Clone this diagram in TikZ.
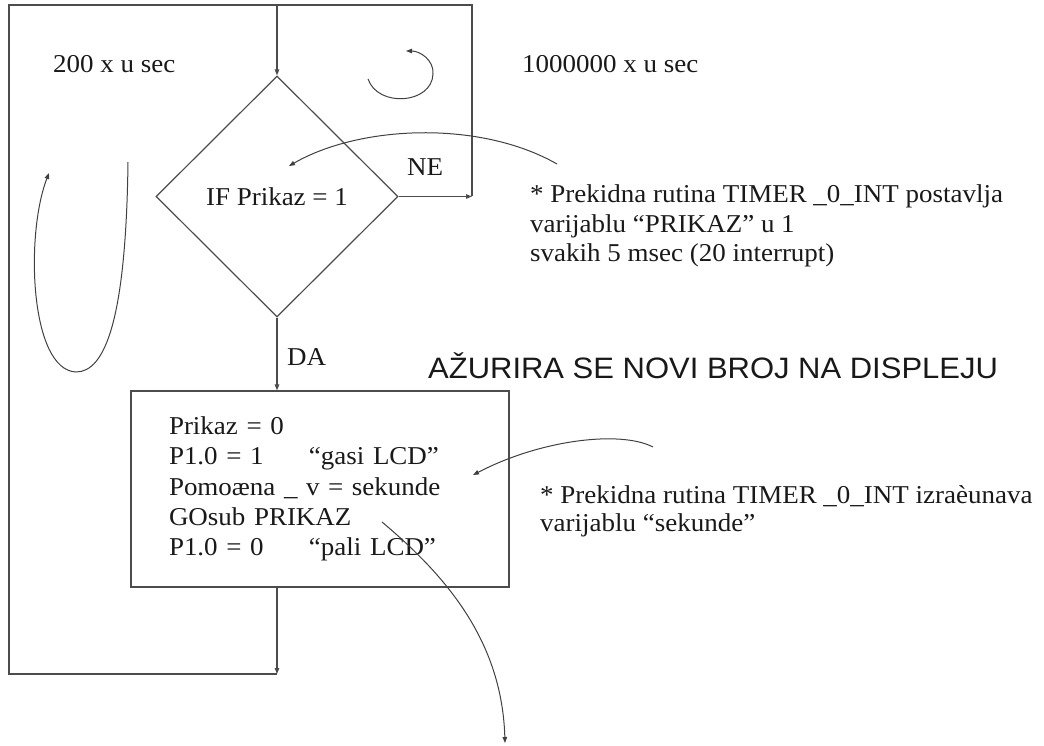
\documentclass[tikz,border=0pt]{standalone}
\usepackage{fontspec}
\setmainfont{Liberation Serif}[FakeStretch=1.05]
\newfontfamily\titlefont{Liberation Sans}[FakeStretch=1.05]
\usetikzlibrary{arrows.meta, shapes.geometric}
\tikzset{
  flow/.style={draw=black!70, line width=1.2pt},
  hint/.style={draw=black!75, line width=1pt},
  notetext/.style={anchor=north west, align=left, font=\fontsize{25.7}{29.5}\selectfont},
}
\begin{document}
\begin{tikzpicture}[x=1pt, y=-1pt, >={Triangle[length=6pt,width=4.5pt]},
  every node/.style={text=black!90, inner sep=0pt, font=\fontsize{25.7}{30}\selectfont}]
  \useasboundingbox (0,0) rectangle (1044,746);

  \node[diamond, flow, minimum width=242pt, minimum height=241pt] (cond) at (277,196.5) {IF Prikaz = 1};
  \node[flow, minimum width=378pt, minimum height=196pt, text width=302pt, align=left,
    font=\fontsize{25.7}{30.3}\selectfont] (upd) at (320,489)
    {Prikaz = 0\\
     \makebox[140pt][l]{P1.0 = 1}“gasi LCD”\\
     Pomoæna \_ v = sekunde\\
     GOsub PRIKAZ\\
     \makebox[140pt][l]{P1.0 = 0}“pali LCD”};

  \node[anchor=base west] (fast) at (53,73) {200 x u sec};
  \node[anchor=base west] (slow) at (522,73) {1000000 x u sec};
  \node[anchor=base west] (ne) at (407,176) {NE};
  \node[anchor=base west] (da) at (287,365) {DA};
  \node[anchor=base west, font=\titlefont\fontsize{29.5}{32}\selectfont] (title) at (428,378)
    {AŽURIRA SE NOVI BROJ NA DISPLEJU};
  \node[notetext] (note1) at (530,184.5)
    {* Prekidna rutina TIMER \_0\_INT postavlja\\
     varijablu “PRIKAZ” u 1\\
     svakih 5 msec (20 interrupt)};
  \node[notetext, font=\fontsize{25.7}{27.5}\selectfont] (note2) at (540,485.5)
    {* Prekidna rutina TIMER \_0\_INT izraèunava\\
     varijablu “sekunde”};

  % outer loop
  \coordinate (topleft) at (9,5);
  \coordinate (topright) at (472,5);
  \coordinate (botleft) at (9,674);
  \draw[flow,->] (cond.north |- topleft) -- (cond.north);
  \draw[flow,->] (cond.east) -- (cond.east -| topright);
  \draw[flow,->] (cond.south) -- (upd.north -| cond.south);
  \draw[flow,->] (upd.south -| cond.south) -- (botleft -| cond.south);
  \draw[flow] (botleft -| cond.south) -- (botleft) -- (topleft) -- (topright) -- (cond.east -| topright);

  % hand drawn hints
  \coordinate (spin) at (368,79);
  \coordinate (spinend) at (406,51);
  \draw[hint,->] (spin) .. controls (378,108) and (432,104) .. (433,74)
    .. controls (434,60) and (420,51) .. (spinend);
  \coordinate (ustart) at (128,162);
  \coordinate (ubottom) at (76,372);
  \coordinate (uend) at (49,173);
  \draw[hint,->] (ustart) .. controls (126,320) and (105,372) .. (ubottom)
    .. controls (30,370) and (25,235) .. (uend);
  \coordinate (n1from) at (557,164);
  \coordinate (n1to) at (289,166);
  \draw[hint,->] (n1from) .. controls (480,120) and (360,125) .. (n1to);
  \coordinate (n2from) at (653,447);
  \coordinate (n2to) at (473,475);
  \draw[hint,->] (n2from) .. controls (620,430) and (540,440) .. (n2to);
  \coordinate (subfrom) at (382,522);
  \coordinate (subto) at (505,743);
  \draw[hint,->] (subfrom) .. controls (445,575) and (502,640) .. (subto);
\end{tikzpicture}
\end{document}
